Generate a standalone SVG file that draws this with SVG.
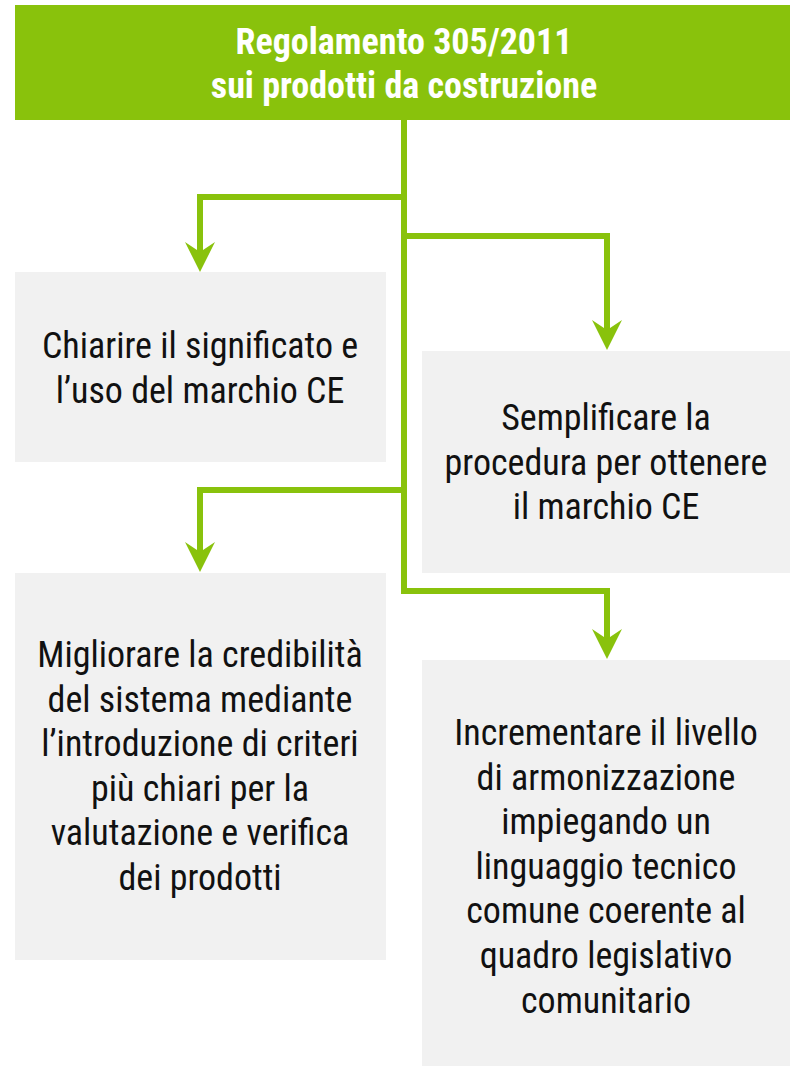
<svg xmlns="http://www.w3.org/2000/svg" width="790" height="1067" viewBox="0 0 790 1067">
<defs>
<style>
.box{fill:#f1f1f1}
.hdr{fill:#89c20c}
.t{font-family:"Liberation Sans Narrow","Roboto Condensed","Liberation Sans",sans-serif;font-stretch:condensed;font-size:36px;fill:#111;text-anchor:middle}
.h{font-family:"Liberation Sans Narrow","Roboto Condensed","Liberation Sans",sans-serif;font-stretch:condensed;font-weight:bold;font-size:36px;fill:#fff;text-anchor:middle}
.c{fill:none;stroke:#89c20c;stroke-width:6;stroke-linejoin:miter;stroke-linecap:butt}
.ah{fill:#89c20c}
</style>
</defs>
<g id="connectors">
<path class="c" d="M404,120 V594"/>
<path class="c" d="M404,197 H200 V254"/>
<polygon class="ah" points="200,272 185,242 200,252 215,242"/>
<path class="c" d="M404,236 H607 V332"/>
<polygon class="ah" points="607,350 592,320 607,330 622,320"/>
<path class="c" d="M404,490 H200 V554"/>
<polygon class="ah" points="200,572 185,542 200,552 215,542"/>
<path class="c" d="M401,591 H607 V641"/>
<polygon class="ah" points="607,659 592,629 607,639 622,629"/>
</g>
<g id="header">
<rect class="hdr" x="15" y="5" width="775" height="115"/>
<text class="h" x="404" y="54">Regolamento 305/2011</text>
<text class="h" x="404" y="98">sui prodotti da costruzione</text>
</g>
<g id="node1">
<rect class="box" x="15" y="272" width="371" height="190"/>
<text class="t" x="200" y="358">Chiarire il significato e</text>
<text class="t" x="200" y="403">l’uso del marchio CE</text>
</g>
<g id="node2">
<rect class="box" x="422" y="351" width="368" height="222"/>
<text class="t" x="606" y="430">Semplificare la</text>
<text class="t" x="606" y="475">procedura per ottenere</text>
<text class="t" x="606" y="519">il marchio CE</text>
</g>
<g id="node3">
<rect class="box" x="15" y="573" width="371" height="387"/>
<text class="t" x="200" y="667">Migliorare la credibilità</text>
<text class="t" x="200" y="712">del sistema mediante</text>
<text class="t" x="200" y="756">l’introduzione di criteri</text>
<text class="t" x="200" y="801">più chiari per la</text>
<text class="t" x="200" y="845">valutazione e verifica</text>
<text class="t" x="200" y="890">dei prodotti</text>
</g>
<g id="node4">
<rect class="box" x="422" y="660" width="368" height="406"/>
<text class="t" x="606" y="745">Incrementare il livello</text>
<text class="t" x="606" y="790">di armonizzazione</text>
<text class="t" x="606" y="834">impiegando un</text>
<text class="t" x="606" y="879">linguaggio tecnico</text>
<text class="t" x="606" y="923">comune coerente al</text>
<text class="t" x="606" y="968">quadro legislativo</text>
<text class="t" x="606" y="1013">comunitario</text>
</g>
</svg>
